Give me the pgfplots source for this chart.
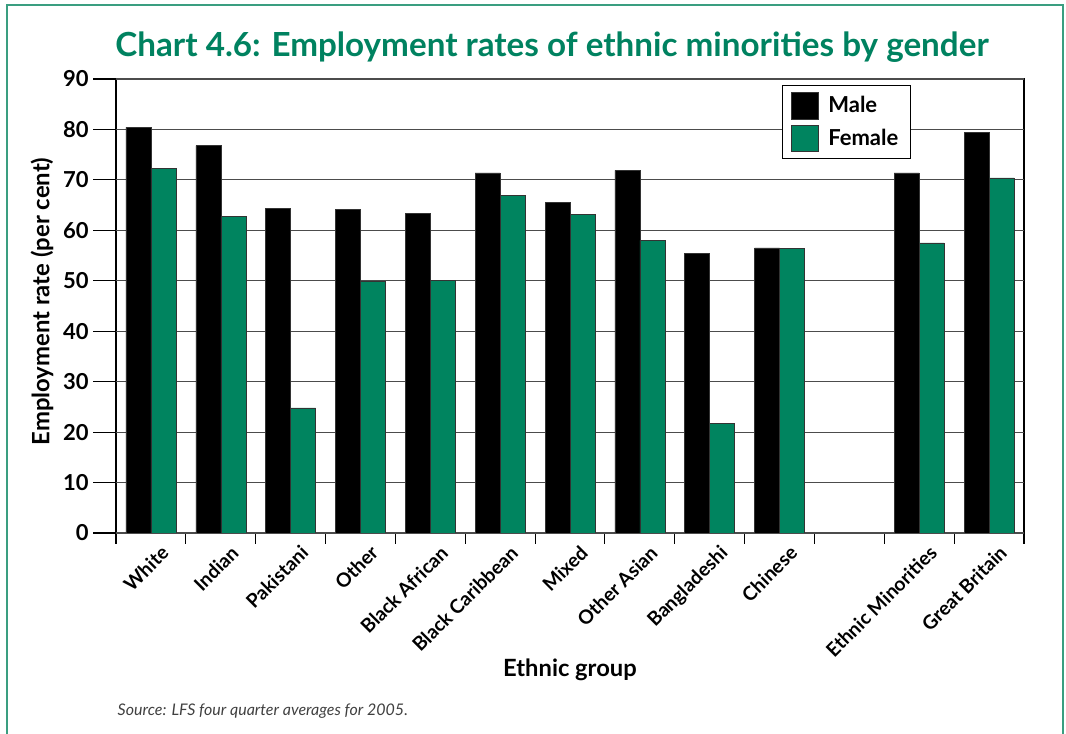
\documentclass[border=0pt]{standalone}
\usepackage{pgfplots}
\pgfplotsset{compat=1.18}
\usepackage{fontspec}
\setmainfont{Lato}
\definecolor{fem}{HTML}{00845F}
\definecolor{ttl}{HTML}{008260}
\definecolor{frm}{HTML}{3A9E80}
\begin{document}
\begin{tikzpicture}[x=0.75pt,y=0.75pt]
\useasboundingbox (0,0) rectangle (1066,734);
\draw[frm, line width=2pt] (7,-5) -- (7,729) -- (1063,729) -- (1063,-5);
\node[ttl, font=\fontsize{24.9}{28}\selectfont\bfseries, anchor=base] at (552,677) {Chart 4.6: Employment rates of ethnic minorities by gender};
\node[black!75, font=\fontsize{12}{14}\selectfont\itshape, anchor=base west] at (113,18) {Source: LFS four quarter averages for 2005.};
\begin{axis}[
  at={(87pt,150.75pt)}, anchor=south west,
  scale only axis, width=681pt, height=340.5pt,
  ymin=0, ymax=90, ytick={0,10,...,90},
  xmin=-0.5, xmax=12.5,
  ybar=0pt, bar width=18.75pt,
  axis line style={black, line width=1pt},
  ymajorgrids, grid style={black!70, line width=0.8pt},
  tick align=outside, major tick length=8pt,
  xtick pos=bottom, ytick pos=left,
  tick style={black, line width=0.8pt},
  xtick={-0.5,0.5,...,12.5}, xticklabels={},
  extra x ticks={0,1,...,12},
  extra x tick labels={White,Indian,Pakistani,Other,Black African,Black Caribbean,Mixed,Other Asian,Bangladeshi,Chinese,{},Ethnic Minorities,Great Britain},
  extra x tick style={major tick length=0pt, tick label style={rotate=45, anchor=north east, xshift=2.2pt, yshift=-7.2pt, font=\fontsize{14.5}{16}\selectfont\bfseries}},
  yticklabels={},
  extra y ticks={0,10,...,90},
  extra y tick labels={0,10,20,30,40,50,60,70,80,90},
  extra y tick style={major tick length=17pt, tick label style={font=\fontsize{16.5}{18}\selectfont\bfseries}},
  /pgf/number format/assume math mode=true,
  xlabel={Ethnic group},
  xlabel style={at={(axis description cs:0.5,-0.317)}, anchor=base, font=\fontsize{17.8}{20}\selectfont\bfseries},
  ylabel={Employment rate (per cent)},
  ylabel style={at={(axis description cs:-0.0815,0.51)}, anchor=center, font=\fontsize{17.9}{20}\selectfont\bfseries},
  legend style={at={(0.733,0.987)}, anchor=north west, draw=black, line width=0.8pt, font=\fontsize{16.5}{18}\selectfont\bfseries, inner xsep=7pt, inner ysep=5pt, row sep=4pt},
  legend image code/.code={\draw[#1, line width=0.5pt] (0pt,-10pt) rectangle (20pt,10pt); \path (25pt,0pt);},
  legend cell align=left,
]
\addplot[fill=black, draw=black!80] coordinates {(0,80.4) (1,76.8) (2,64.4) (3,64.1) (4,63.3) (5,71.4) (6,65.5) (7,71.9) (8,55.5) (9,56.5) (11,71.4) (12,79.4)};
\addplot[fill=fem, draw=black!80] coordinates {(0,72.3) (1,62.7) (2,24.8) (3,49.9) (4,50.1) (5,66.9) (6,63.1) (7,58.0) (8,21.7) (9,56.4) (11,57.5) (12,70.4)};
\legend{Male,Female}
\end{axis}
\end{tikzpicture}
\end{document}
